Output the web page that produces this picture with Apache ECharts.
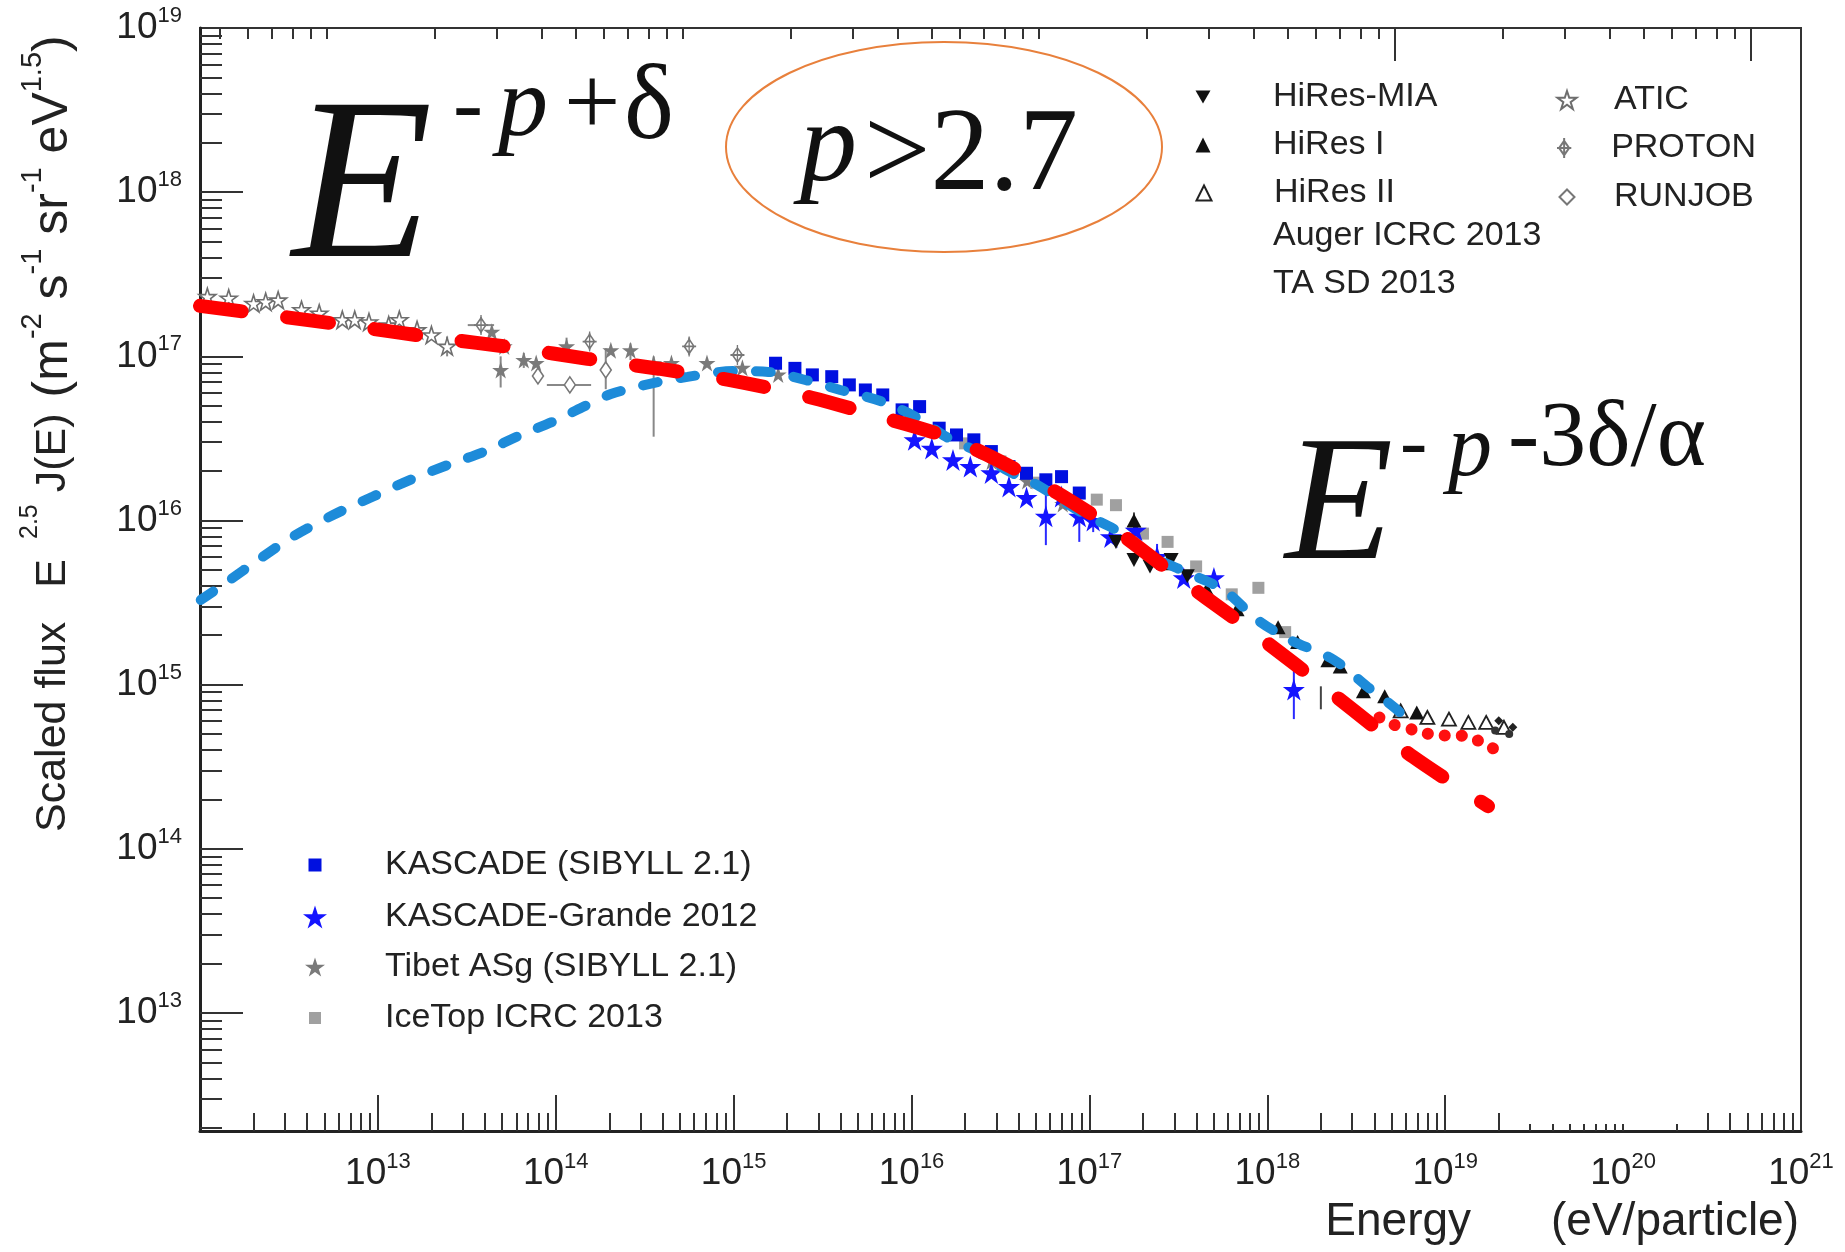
<!DOCTYPE html>
<html><head><meta charset="utf-8">
<script src="https://cdn.jsdelivr.net/npm/echarts@6/dist/echarts.min.js"></script>
<style>html,body{margin:0;padding:0;background:#fff}#c{width:1845px;height:1252px}</style>
</head><body><div id="c"></div>
<script>
// ---------------- data ----------------
const X_LABELS = [1e13, 1e14, 1e15, 1e16, 1e17, 1e18, 1e19, 1e20, 1e21];
const Y_LABELS = [1e13, 1e14, 1e15, 1e16, 1e17, 1e18, 1e19];

const RED_FIT = [[1.0e12,2.03e17],[2.51e12,1.78e17],[7.24e12,1.53e17],[2.09e13,1.30e17],[6.17e13,1.12e17],[1.51e14,9.66e16],[3.80e14,8.41e16],[9.55e14,7.16e16],[2.75e15,5.60e16],[5.89e15,4.44e16],[1.48e16,3.31e16],[3.16e16,2.29e16],[6.76e16,1.45e16],[1.45e17,8.51e15],[3.09e17,4.57e15],[6.61e17,2.51e15],[1.45e18,1.32e15],[3.09e18,6.92e14],[6.61e18,3.63e14],[1.74e19,1.82e14]];
const BLUE_MODEL = [[1.01e12,3.28e15],[1.47e12,4.34e15],[2.12e12,5.75e15],[3.33e12,7.98e15],[5.60e12,1.08e16],[9.40e12,1.40e16],[1.52e13,1.77e16],[2.47e13,2.18e16],[3.98e13,2.63e16],[6.31e13,3.31e16],[1.00e14,4.07e16],[1.41e14,4.90e16],[2.04e14,5.89e16],[3.63e14,6.92e16],[5.50e14,7.50e16],[1.00e15,8.13e16],[1.57e15,8.04e16],[2.53e15,7.18e16],[3.98e15,6.24e16],[6.85e15,5.30e16],[1.08e16,4.22e16],[1.56e16,3.24e16],[2.24e16,2.69e16],[3.53e16,1.99e16],[5.08e16,1.65e16],[9.14e16,1.11e16],[1.51e17,8.39e15],[2.28e17,6.03e15],[3.42e17,4.89e15],[5.68e17,3.78e15],[8.81e17,2.48e15],[1.35e18,1.87e15],[2.36e18,1.42e15],[3.66e18,9.70e14],[5.61e18,6.73e14],[6.56e18,5.25e14]];
const RED_DOTS = [[4.27e18,6.31e14],[5.01e18,5.75e14],[6.92e18,5.25e14],[9.12e18,4.90e14],[1.12e19,4.90e14],[1.41e19,4.79e14],[1.74e19,4.17e14],[2.24e19,3.98e14]];

const ATIC = [[1.10e12,2.31e17],[1.45e12,2.26e17],[2.00e12,2.10e17],[2.34e12,2.15e17],[2.75e12,2.20e17],[3.72e12,1.92e17],[4.68e12,1.83e17],[6.31e12,1.67e17],[7.41e12,1.67e17],[8.91e12,1.62e17],[1.15e13,1.55e17],[1.32e13,1.67e17],[1.66e13,1.45e17],[2.00e13,1.35e17],[2.45e13,1.15e17]];
const TIBET = [[4.37e13,1.41e17],[5.13e13,1.15e17],[4.90e13,8.26e16],[6.61e13,9.51e16],[7.76e13,9.12e16],[1.15e14,1.15e17],[2.04e14,1.09e17],[2.63e14,1.09e17],[3.55e14,9.08e16],[4.47e14,9.12e16],[7.08e14,9.12e16],[1.12e15,8.51e16],[1.78e15,7.76e16],[2.82e16,2.29e16],[4.47e16,1.74e16],[7.08e16,1.26e16]];
const PROTON = [[3.80e13,1.55e17],[1.55e14,1.23e17],[5.62e14,1.15e17],[1.05e15,1.02e17]];
const RUNJOB = [[7.94e13,7.59e16],[1.20e14,6.70e16],[1.91e14,8.26e16]];
const KASCADE = [[1.72e15,9.08e16],[2.21e15,8.45e16],[2.77e15,7.71e16],[3.56e15,7.52e16],[4.47e15,6.70e16],[5.50e15,6.24e16],[6.89e15,5.82e16],[8.85e15,4.72e16],[1.11e16,4.94e16],[1.43e16,3.65e16],[1.79e16,3.32e16],[2.24e16,3.10e16],[2.81e16,2.63e16],[3.53e16,2.13e16],[4.43e16,1.94e16],[5.69e16,1.77e16],[6.97e16,1.85e16],[8.77e16,1.47e16]];
const GRANDE = [[1.04e16,3.10e16],[1.30e16,2.75e16],[1.71e16,2.34e16],[2.14e16,2.13e16],[2.81e16,1.95e16],[3.53e16,1.61e16],[4.43e16,1.38e16],[5.69e16,1.06e16],[6.97e16,1.40e16],[8.77e16,1.06e16],[1.05e17,1.00e16],[1.32e17,7.94e15],[1.82e17,8.71e15],[2.40e17,6.03e15],[3.39e17,4.47e15],[5.01e17,4.47e15],[1.41e18,9.33e14]];
const ICETOP = [[2.00e16,2.95e16],[3.16e16,2.29e16],[5.01e16,1.70e16],[7.94e16,1.32e16],[1.10e17,1.34e16],[1.41e17,1.24e16],[2.00e17,8.32e15],[2.75e17,7.41e15],[3.98e17,5.25e15],[6.31e17,3.55e15],[8.91e17,3.89e15],[1.26e18,2.09e15]];
const HIRES_MIA = [[1.41e17,7.41e15],[1.78e17,5.75e15],[2.19e17,5.25e15],[2.88e17,5.75e15],[3.55e17,4.57e15]];
const HIRES_I = [[1.78e17,1.00e16],[2.75e17,5.50e15],[4.57e17,3.80e15],[6.76e17,2.88e15],[1.15e18,2.24e15],[1.48e18,1.82e15],[2.19e18,1.41e15],[2.57e18,1.29e15],[3.47e18,9.12e14],[4.57e18,8.51e14],[6.92e18,6.76e14]];
const HIRES_II = [[5.62e18,6.92e14],[7.94e18,6.31e14],[1.05e19,6.17e14],[1.35e19,5.89e14],[1.70e19,5.89e14],[2.14e19,5.50e14]];
const AUGER = [[1.91e19,5.25e14],[2.29e19,5.01e14]];
const TA_SD = [[2.00e19,6.03e14],[2.40e19,5.50e14]];

// error bars: [E, low, high]  /  horizontal: [Elow, Ehigh, F]
const ERR_GRAY = [[4.90e13,6.46e16,1.00e17],[3.55e14,3.24e16,1.00e17],[1.91e14,6.31e16,1.12e17],[2.45e13,1.00e17,1.32e17],[1.15e14,1.00e17,1.30e17],[2.63e14,9.50e16,1.20e17],[1.55e14,1.10e17,1.38e17],[6.61e13,8.50e16,1.05e17],[3.80e13,1.38e17,1.74e17],[5.62e14,1.02e17,1.30e17]];
const ERR_GRAY_H = [[8.91e13,1.58e14,6.70e16],[3.20e13,4.50e13,1.55e17]];
const ERR_BLUE = [[5.69e16,7.08e15,1.55e16],[8.77e16,7.41e15,1.48e16],[1.41e18,6.17e14,1.23e15],[2.40e17,5.00e15,7.20e15],[1.05e17,8.50e15,1.17e16]];
const ERR_BLACK = [[2.00e18,7.08e14,9.77e14],[1.78e17,8.90e15,1.12e16]];

// ---------------- axis tick positions ----------------
const X_MIN = 1e12, X_MAX = 1.0005e21, Y_MIN = 1.91e12, Y_MAX = 1.0005e19;
const TOP_MIN = 43.95, TOP_MAX = 1.38e6;
function decadeTicks(n0, n1, ks, lo, hi) {
  const out = [];
  for (let n = n0; n <= n1; n++) for (const k of ks) { const v = +(k + 'e' + n); if (v >= lo && v <= hi) out.push(v); }
  return out;
}
const K29 = [2,3,4,5,6,7,8,9];
const X_MAJOR = [1e13,1e14,1e15,1e16,1e17,1e18,1e19];
const X_SHORT = [3e19,4e19,5e19,6e19,7e19,8e19,9e19,1e20,2e20];
const X_MINOR = decadeTicks(12, 20, K29, X_MIN, X_MAX).filter(v => X_SHORT.indexOf(v) < 0);
const Y_MAJOR = [1e13,1e14,1e15,1e16,1e17,1e18];
const Y_MINOR = decadeTicks(12, 18, K29, Y_MIN, Y_MAX);
const TOP_MINOR = decadeTicks(1, 5, K29, TOP_MIN, TOP_MAX).concat([1e2,1e3,1e4]);
const TOP_LONG = [1e5, 1e6];

// ---------------- styles ----------------
const SANS = "'Liberation Sans', Arial, Helvetica, sans-serif";
const SERIF = "'Liberation Serif', 'Times New Roman', serif";
const STAR = 'path://M50,0 L61.2,34.5 L97.6,34.5 L68.2,55.9 L79.4,90.5 L50,69.1 L20.6,90.5 L31.8,55.9 L2.4,34.5 L38.8,34.5 Z';
const TRI_DOWN = 'path://M0,0 L20,0 L10,17.3 Z';
const PROTON_SYM = 'path://M10,4 L17,14 L10,24 L3,14 Z M10,0 L10,28 M0,14 L20,14';

const pow10 = v => '{b|10}{s|' + Math.round(Math.log10(v)) + '}';
const labelRich = {
  b: {fontFamily: SANS, fontSize: 37, lineHeight: 46, verticalAlign: 'middle', color: '#222'},
  s: {fontFamily: SANS, fontSize: 22, verticalAlign: 'top', color: '#222'}
};
const tickLine = {color: '#333', width: 2};

function logAxis(pos, min, max, extra) {
  return Object.assign({
    type: 'log', position: pos, min: min, max: max,
    axisLine: {show: false, onZero: false},
    axisTick: {show: false}, axisLabel: {show: false},
    splitLine: {show: false}, minorTick: {show: false}, minorSplitLine: {show: false}
  }, extra);
}

function errV(name, data, color, w) {
  return {type: 'custom', name: name, data: data, z: 1, silent: true,
    encode: {x: 0, y: [1, 2]},
    renderItem: function (p, api) {
      const a = api.coord([api.value(0), api.value(1)]), b = api.coord([api.value(0), api.value(2)]);
      return {type: 'line', shape: {x1: a[0], y1: a[1], x2: b[0], y2: b[1]}, style: {stroke: color, lineWidth: w}};
    }};
}
function errH(name, data, color, w) {
  return {type: 'custom', name: name, data: data, z: 1, silent: true,
    encode: {x: [0, 1], y: 2},
    renderItem: function (p, api) {
      const a = api.coord([api.value(0), api.value(2)]), b = api.coord([api.value(1), api.value(2)]);
      return {type: 'line', shape: {x1: a[0], y1: a[1], x2: b[0], y2: b[1]}, style: {stroke: color, lineWidth: w}};
    }};
}
function scat(name, data, symbol, size, itemStyle, z) {
  return {type: 'scatter', name: name, data: data, symbol: symbol, symbolSize: size,
    itemStyle: Object.assign({opacity: 1}, itemStyle), z: z || 2, emphasis: {disabled: true}};
}
function legendItem(name, cx, cy, textX, size, fs, icon) {
  const h = Math.max(size, fs);
  return {show: true, orient: 'horizontal', left: cx - size / 2, top: cy - h / 2,
    padding: 0, itemWidth: size, itemHeight: size, itemGap: 0, selectedMode: false,
    data: [icon ? {name: name, icon: icon} : {name: name}],
    textStyle: {fontFamily: SANS, fontSize: fs, color: '#222',
      padding: [0, 0, 0, Math.max(0, textX - (cx + size / 2) - 5)]}};
}
function txt(str, x, y, font, extra) {
  return Object.assign({type: 'text', x: x, y: y, silent: true,
    style: {text: str, font: font, fill: '#111', textAlign: 'left', textVerticalAlign: 'middle'}}, extra || {});
}

const chart = echarts.init(document.getElementById('c'), null, {renderer: 'canvas'});
chart.setOption({
  animation: false,
  backgroundColor: '#fff',
  grid: {left: 200, top: 28, width: 1601, height: 1103, show: true, borderColor: '#333', borderWidth: 2, backgroundColor: 'transparent'},
  xAxis: [
    logAxis('bottom', X_MIN, X_MAX, {
      axisLine: {show: true, onZero: false, lineStyle: {color: '#222', width: 3}},
      axisTick: {show: true, inside: true, length: 36, customValues: X_MAJOR, lineStyle: tickLine},
      axisLabel: {show: true, customValues: X_LABELS, formatter: pow10, rich: labelRich, margin: 20},
      name: '{a|Energy}{g| }{a|(eV/particle)}', nameLocation: 'end', nameGap: 0,
      nameTextStyle: {align: 'right', verticalAlign: 'top', padding: [68, 2, 0, 0],
        rich: {a: {fontFamily: SANS, fontSize: 46, color: '#222'}, g: {width: 80, fontSize: 46}}}
    }),
    logAxis('bottom', X_MIN, X_MAX, {axisTick: {show: true, inside: true, length: 18, customValues: X_MINOR, lineStyle: tickLine}}),
    logAxis('bottom', X_MIN, X_MAX, {axisTick: {show: true, inside: true, length: 7, customValues: X_SHORT, lineStyle: tickLine}}),
    logAxis('top', TOP_MIN, TOP_MAX, {axisTick: {show: true, inside: true, length: 11, customValues: TOP_MINOR, lineStyle: tickLine}}),
    logAxis('top', TOP_MIN, TOP_MAX, {axisTick: {show: true, inside: true, length: 33, customValues: TOP_LONG, lineStyle: tickLine}})
  ],
  yAxis: [
    logAxis('left', Y_MIN, Y_MAX, {
      axisLine: {show: true, onZero: false, lineStyle: {color: '#222', width: 3}},
      axisTick: {show: true, inside: true, length: 43, customValues: Y_MAJOR, lineStyle: tickLine},
      axisLabel: {show: true, customValues: Y_LABELS, formatter: pow10, rich: labelRich, margin: 18}
    }),
    logAxis('left', Y_MIN, Y_MAX, {axisTick: {show: true, inside: true, length: 22, customValues: Y_MINOR, lineStyle: tickLine}})
  ],
  legend: [
    legendItem('HiRes-MIA', 1203, 97, 1273, 15, 34),
    legendItem('HiRes I', 1203, 145, 1273, 15, 34),
    legendItem('HiRes II', 1203, 193, 1273, 15, 34),
    legendItem('Auger ICRC 2013', 1203, 236, 1273, 14, 34, 'none'),
    legendItem('TA SD 2013', 1203, 284, 1273, 14, 34, 'none'),
    legendItem('ATIC', 1566, 100, 1613, 19, 34),
    legendItem('PROTON', 1566, 148, 1613, 20, 34),
    legendItem('RUNJOB', 1566, 197, 1613, 15, 34),
    legendItem('KASCADE (SIBYLL 2.1)', 315, 865, 385, 13, 34),
    legendItem('KASCADE-Grande 2012', 315, 917, 385, 24, 34),
    legendItem('Tibet ASg (SIBYLL 2.1)', 315, 967, 385, 20, 34),
    legendItem('IceTop ICRC 2013', 315, 1018, 385, 12, 34)
  ],
  series: [
    errV('errGray', ERR_GRAY, '#888', 2),
    errH('errGrayH', ERR_GRAY_H, '#888', 2),
    errV('errBlue', ERR_BLUE, '#2a2aff', 2),
    errV('errBlack', ERR_BLACK, '#444', 2),
    scat('ATIC', ATIC, STAR, 17, {color: '#fff', borderColor: '#6e6e6e', borderWidth: 1.6}),
    scat('Tibet ASg (SIBYLL 2.1)', TIBET, STAR, 17, {color: '#7a7a7a'}),
    scat('PROTON', PROTON, PROTON_SYM, [14, 20], {color: '#fff', borderColor: '#777', borderWidth: 1.6}),
    scat('RUNJOB', RUNJOB, 'diamond', [11, 16], {color: '#fff', borderColor: '#777', borderWidth: 1.6}),
    scat('IceTop ICRC 2013', ICETOP, 'rect', 12, {color: '#a0a0a0'}),
    scat('KASCADE (SIBYLL 2.1)', KASCADE, 'rect', 13, {color: '#0010e0'}),
    scat('KASCADE-Grande 2012', GRANDE, STAR, 22, {color: '#1414ff'}),
    scat('HiRes-MIA', HIRES_MIA, TRI_DOWN, [15, 14], {color: '#111'}),
    scat('HiRes I', HIRES_I, 'triangle', [15, 14], {color: '#111'}),
    scat('HiRes II', HIRES_II, 'triangle', [14, 13], {color: '#fff', borderColor: '#222', borderWidth: 1.8}),
    scat('Auger ICRC 2013', AUGER, 'circle', 8, {color: '#333'}),
    scat('TA SD 2013', TA_SD, 'diamond', 9, {color: '#222'}),
    {type: 'line', name: 'model-ankle', data: RED_DOTS, z: 3, symbol: 'none', smooth: 0.3, silent: true,
      lineStyle: {color: '#ff1010', width: 12, type: [0.1, 17], cap: 'round'}},
    {type: 'line', name: 'model-blue', data: BLUE_MODEL, z: 4, symbol: 'none', smooth: 0.3, silent: true,
      lineStyle: {color: '#1d8bd9', width: 10, type: [15, 23], cap: 'round'}},
    {type: 'line', name: 'fit-red', data: RED_FIT, z: 5, symbol: 'none', smooth: 0.3, silent: true,
      lineStyle: {color: '#ff0000', width: 14, type: [42, 46], cap: 'round'}}
  ],
  graphic: {elements: [
    txt('E', 292, 196, 'italic 230px ' + SERIF),
    txt('-', 453, 109, '90px ' + SERIF),
    txt('p', 498, 109, 'italic 100px ' + SERIF),
    txt('+', 564, 109, '100px ' + SERIF),
    txt('\u03b4', 624, 110, '106px ' + SERIF),
    {type: 'ellipse', silent: true, shape: {cx: 944, cy: 147, rx: 218, ry: 105}, style: {fill: 'none', stroke: '#e8803c', lineWidth: 2}},
    txt('p', 800, 150, 'italic 114px ' + SERIF),
    txt('>2.7', 864, 158, '118px ' + SERIF),
    txt('E', 1285, 511, 'italic 177px ' + SERIF),
    txt('-', 1400, 446, '82px ' + SERIF),
    txt('p', 1448, 452, 'italic 88px ' + SERIF),
    txt('-3\u03b4/\u03b1', 1508, 440, '94px ' + SERIF),
    {type: 'text', x: 88, y: 832, rotation: Math.PI / 2, silent: true,
      style: {text: '{t|Scaled flux}{g| }{t|E}{h| }{s|2.5}{k| }{t|J(E)}{m| }{u|(m}{v|-2}{u| s}{v|-1}{u| sr}{v|-1}{u| eV}{v|1.5}{u|)}',
        textAlign: 'left', textVerticalAlign: 'bottom', fill: '#222',
        rich: {
          t: {fontFamily: SANS, fontSize: 43, lineHeight: 70, verticalAlign: 'middle', fill: '#222'},
          u: {fontFamily: SANS, fontSize: 50, lineHeight: 70, verticalAlign: 'middle', fill: '#222'},
          s: {fontFamily: SANS, fontSize: 25, verticalAlign: 'top', fill: '#222'},
          v: {fontFamily: SANS, fontSize: 29, verticalAlign: 'top', fill: '#222'},
          g: {width: 34, fontSize: 43}, h: {width: 20, fontSize: 43}, k: {width: 12, fontSize: 43}, m: {width: 16, fontSize: 43}
        }}}
  ]}
});
</script></body></html>
